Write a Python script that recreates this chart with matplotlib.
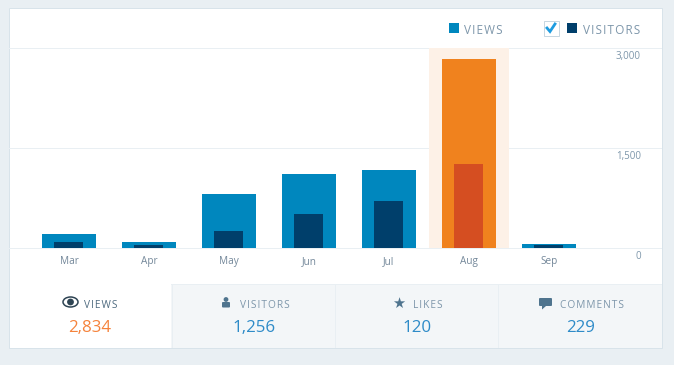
import matplotlib
matplotlib.use('Agg')
import matplotlib.pyplot as plt
from matplotlib.patches import Rectangle, Circle, Ellipse, FancyBboxPatch, Polygon

plt.rcParams['font.family'] = ['Open Sans', 'DejaVu Sans']

# Data
months = ['Mar', 'Apr', 'May', 'Jun', 'Jul', 'Aug', 'Sep']
views = [210, 90, 810, 1110, 1170, 2834, 60]
visitors = [90, 45, 255, 510, 705, 1256, 45]
y_ticks = [0, 1500, 3000]
highlight = 5
tab_labels = ['VIEWS', 'VISITORS', 'LIKES', 'COMMENTS']
tab_values = ['2,834', '1,256', '120', '229']

# Colors
PAGE = '#e9eff3'
BORDER = '#d8e3ea'
GRID = '#e9eff3'
TAB = '#f3f6f8'
BLUE = '#0087be'
NAVY = '#003f6b'
ORANGE = '#f0821e'
RUST = '#d54e21'
PEACH = '#fdf1e7'
GREY = '#7d96aa'
SLATE = '#4f748e'
NUM_BLUE = '#2e8bc8'

HAIR = '\u200a'
LW = 0.72  # one pixel at dpi 100


def spaced(s):
    # letter spacing, matplotlib has no option for it
    return HAIR.join(s)


fig = plt.figure(figsize=(6.74, 3.65), dpi=100, facecolor=PAGE)

# Pixel axes for the card, tabs and legend
bg = fig.add_axes([0, 0, 1, 1])
bg.set_xlim(0, 674)
bg.set_ylim(365, 0)
bg.axis('off')

bg.add_patch(Rectangle((8.5, 7.5), 653, 340, fc='white', ec='none'))
bg.add_patch(Rectangle((171, 284), 491, 64, fc=TAB, ec='none'))
bg.add_patch(Rectangle((8.5, 7.5), 653, 340, fc='none', ec=BORDER, lw=LW, zorder=5))
bg.plot([171, 661], [283.5, 283.5], color=GRID, lw=LW)
for px in [171.5, 334.5, 497.5]:
    bg.plot([px, px], [283.5, 347], color=GRID, lw=LW)

# Legend
bg.add_patch(Rectangle((449, 23), 10, 10, fc=BLUE, ec='none'))
bg.text(464, 30, spaced('VIEWS'), fontsize=8.5, color=GREY, va='center', ha='left')
bg.add_patch(Rectangle((543.5, 20.5), 15, 15, fc='white', ec='#c8d7e1', lw=LW))
bg.plot([547, 550, 555], [28, 31.5, 24], color='#1e9ce0', lw=2, solid_joinstyle='miter')
bg.add_patch(Rectangle((567, 23), 10, 10, fc=NAVY, ec='none'))
bg.text(583, 30, spaced('VISITORS'), fontsize=8.5, color=GREY, va='center', ha='left')

# Tabs
label_x = [84, 240, 413, 560]
value_x = [90, 254, 417, 581]
for i in range(4):
    label_color = '#4f6b80' if i == 0 else GREY
    value_color = '#f5833c' if i == 0 else NUM_BLUE
    bg.text(label_x[i], 305, spaced(tab_labels[i]), fontsize=7.3, color=label_color,
            va='center', ha='left')
    bg.text(value_x[i], 327.5, tab_values[i], fontsize=12.2, color=value_color,
            va='center', ha='center')

# Tab icons
bg.add_patch(Ellipse((70.5, 302), 15, 10, fc='white', ec='#2e4453', lw=1.1))
bg.add_patch(Circle((70.5, 302), 3.4, fc='#2e4453', ec='none'))
bg.add_patch(Circle((226, 299.5), 2.4, fc=SLATE, ec='none'))
bg.add_patch(FancyBboxPatch((223, 303), 6, 3.5, boxstyle='round,pad=1', fc=SLATE, ec='none'))
bg.text(399, 303, '\u2605', family='DejaVu Sans', fontsize=10.5, color=SLATE, va='center', ha='center')
bg.add_patch(FancyBboxPatch((540, 299), 11, 6, boxstyle='round,pad=1', fc=SLATE, ec='none'))
bg.add_patch(Polygon([[542, 306], [546, 306], [542, 309.5]], fc=SLATE, ec='none'))

# Chart axes, baseline at y=248px and 3,000 at y=48px
ax = fig.add_axes([9 / 674, (365 - 248) / 365, 652 / 674, 200 / 365])
ax.patch.set_alpha(0)
ax.set_xlim(-0.75, 7.4)
ax.set_ylim(0, 3000)
for s in ax.spines.values():
    s.set_visible(False)

x = list(range(len(months)))
for t in y_ticks:
    ax.axhline(t, color=GRID, lw=LW, zorder=1, clip_on=False)
    ax.annotate(f'{t:,}', xy=(1, t), xycoords=ax.get_yaxis_transform(),
                xytext=(-20, -8.5), textcoords='offset pixels',
                ha='right', va='center', fontsize=7, color=GREY)
ax.axvspan(highlight - 0.5, highlight + 0.5, color=PEACH, lw=0, zorder=2)

outer = [ORANGE if i == highlight else BLUE for i in x]
inner = [RUST if i == highlight else NAVY for i in x]
ax.bar(x, views, width=0.675, color=outer, zorder=3)
# inner bars sit half a pixel left of the outer ones
ax.bar([i - 0.5 / 80 for i in x], visitors, width=0.3625, color=inner, zorder=4)

ax.set_yticks([])
ax.set_xticks(x, months)
ax.tick_params(axis='x', length=0, pad=5.5, labelsize=7.2, labelcolor='#74889a')

fig.savefig('out.png', dpi=100, facecolor=PAGE)
